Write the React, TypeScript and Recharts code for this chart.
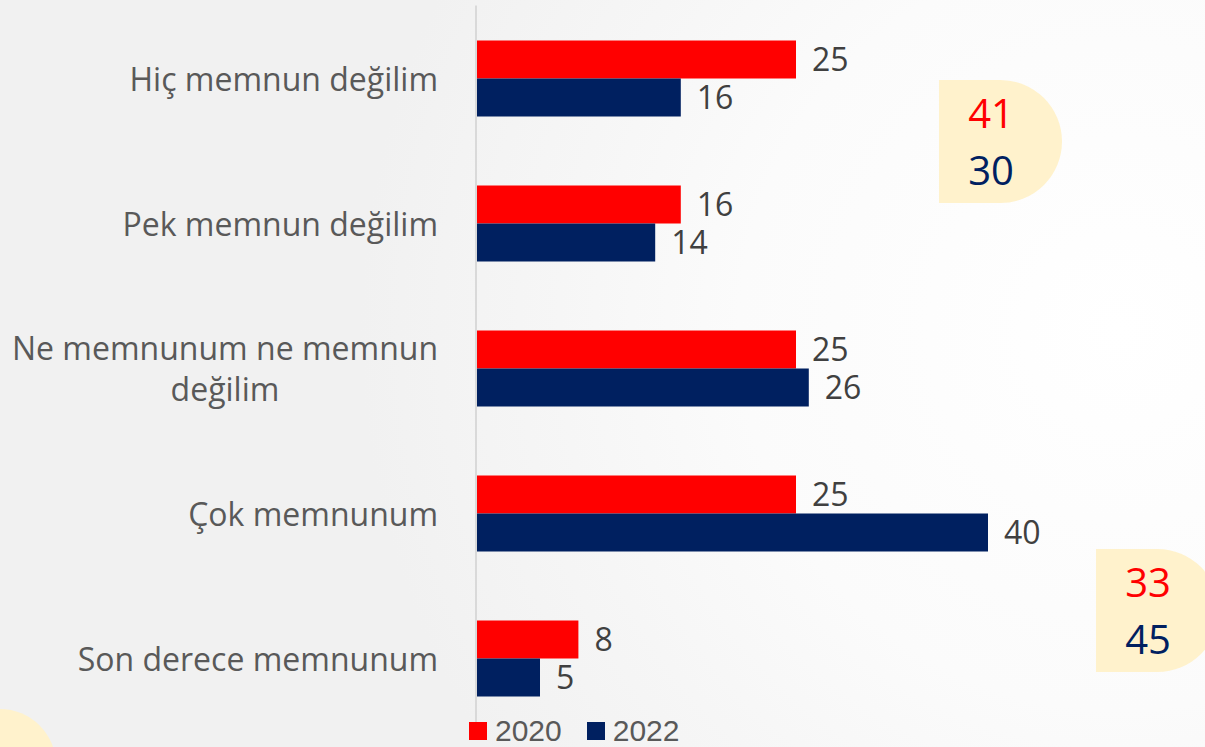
import React from 'react';
import { BarChart, Bar, XAxis, YAxis, LabelList } from 'recharts';

// satisfaction categories (top to bottom) and shares per survey year
const categories = [
  'Hiç memnun değilim',
  'Pek memnun değilim',
  'Ne memnunum ne memnun\ndeğilim',
  'Çok memnunum',
  'Son derece memnunum',
];
const values2020 = [25, 16, 25, 25, 8];
const values2022 = [16, 14, 26, 40, 5];
const seriesNames = ['2020', '2022'];

// grouped totals shown in the side callouts: [2020, 2022]
const dissatisfiedTotals = [41, 30];
const satisfiedTotals = [33, 45];

const RED = '#ff0000';
const NAVY = '#002060';
const FONT = '"Open Sans", "Noto Sans", sans-serif';

const rows = categories.map((label, i) => ({
  label,
  y2020: values2020[i],
  y2022: values2022[i],
}));

let ctx: CanvasRenderingContext2D | null = null;
const measure = (text: string, size: number) => {
  if (!ctx) ctx = document.createElement('canvas').getContext('2d');
  if (!ctx) return text.length * size * 0.5;
  ctx.font = `${size}px ${FONT}`;
  return ctx.measureText(text).width;
};

const CategoryTick = (props: any) => {
  const { x, y, payload } = props;
  const size = 32;
  const lines = String(payload.value).split('\n');
  const lineH = 41;
  const maxW = Math.max(...lines.map((l) => measure(l, size)));
  const startY = y - ((lines.length - 1) * lineH) / 2;
  return (
    <g>
      {lines.map((line, i) => (
        <text
          key={i}
          x={lines.length > 1 ? x - maxW / 2 : x}
          y={startY + i * lineH}
          textAnchor={lines.length > 1 ? 'middle' : 'end'}
          dominantBaseline="central"
          fill="#595959"
          fontSize={size}
          fontFamily={FONT}
        >
          {line}
        </text>
      ))}
    </g>
  );
};

const LegendBox = () => (
  <div
    style={{
      position: 'absolute',
      left: 469,
      top: 716,
      display: 'flex',
      alignItems: 'center',
      fontFamily: '"Liberation Sans", Arial, sans-serif',
      fontSize: 30,
      color: '#595959',
    }}
  >
    {seriesNames.map((name, i) => (
      <div key={name} style={{ display: 'flex', alignItems: 'center', marginRight: 25 }}>
        <span style={{ width: 18, height: 18, background: i === 0 ? RED : NAVY, marginRight: 8, display: 'inline-block' }} />
        <span style={{ lineHeight: '30px' }}>{name}</span>
      </div>
    ))}
  </div>
);

const Callout = ({ left, top, totals }: { left: number; top: number; totals: number[] }) => (
  <div
    style={{
      position: 'absolute',
      left,
      top,
      width: 123,
      height: 123,
      background: '#fff2cc',
      borderRadius: '0 62px 62px 0',
      fontFamily: FONT,
      fontSize: 40,
    }}
  >
    {totals.map((t, i) => (
      <div
        key={i}
        style={{
          position: 'absolute',
          left: 0,
          width: 104,
          top: i === 0 ? 8 : 65,
          textAlign: 'center',
          lineHeight: '50px',
          color: i === 0 ? RED : NAVY,
        }}
      >
        {t}
      </div>
    ))}
  </div>
);

export default function App() {
  return (
    <div
      style={{
        position: 'absolute',
        left: 0,
        top: 0,
        width: 1205,
        height: 747,
        overflow: 'hidden',
        background:
          'radial-gradient(circle at 1120px 330px, #ffffff 0px, #fbfbfb 380px, #f6f6f6 560px, #f1f1f1 760px)',
      }}
    >
      <div
        style={{
          position: 'absolute',
          left: -56,
          top: 709,
          width: 112,
          height: 112,
          borderRadius: '50%',
          background: '#fff2cc',
        }}
      />
      <Callout left={939} top={80} totals={dissatisfiedTotals} />
      <Callout left={1096} top={549} totals={satisfiedTotals} />
      <div style={{ position: 'absolute', left: 0, top: 0 }}>
        <BarChart
          layout="vertical"
          width={1205}
          height={747}
          data={rows}
          margin={{ top: 5.5, right: 89, bottom: 16.5, left: 0 }}
          barGap={0}
          barSize={38}
        >
          <XAxis type="number" domain={[0, 50]} hide />
          <YAxis
            type="category"
            dataKey="label"
            width={476}
            axisLine={{ stroke: '#d9d9d9', strokeWidth: 2 }}
            tickLine={false}
            tickSize={0}
            tickMargin={38}
            interval={0}
            tick={<CategoryTick />}
          />
          <Bar dataKey="y2020" name={seriesNames[0]} fill={RED} isAnimationActive={false}>
            <LabelList dataKey="y2020" position="right" offset={16} fill="#404040" fontSize={32} fontFamily={FONT} />
          </Bar>
          <Bar dataKey="y2022" name={seriesNames[1]} fill={NAVY} isAnimationActive={false}>
            <LabelList dataKey="y2022" position="right" offset={16} fill="#404040" fontSize={32} fontFamily={FONT} />
          </Bar>
        </BarChart>
      </div>
      <LegendBox />
    </div>
  );
}
